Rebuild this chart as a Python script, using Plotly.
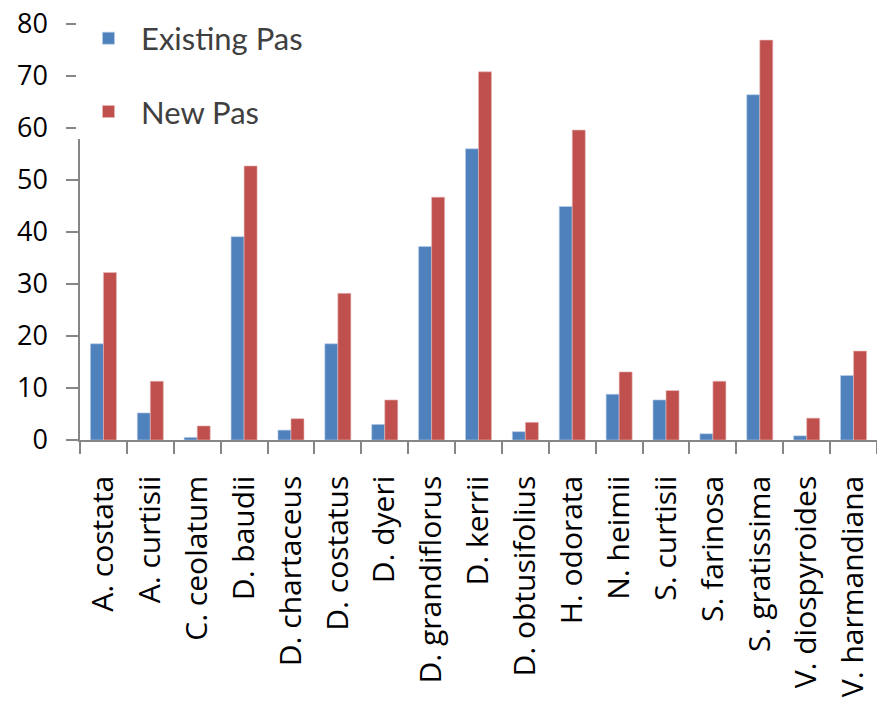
import plotly.graph_objects as go

# Species on the category axis
species = [
    "A. costata", "A. curtisii", "C. ceolatum", "D. baudii", "D. chartaceus",
    "D. costatus", "D. dyeri", "D. grandiflorus", "D. kerrii", "D. obtusifolius",
    "H. odorata", "N. heimii", "S. curtisii", "S. farinosa", "S. gratissima",
    "V. diospyroides", "V. harmandiana",
]

# Values per species for each series
existing_pas = [18.5, 5.2, 0.5, 39.1, 1.9, 18.5, 3.0, 37.2, 56.0, 1.6,
                44.9, 8.8, 7.7, 1.2, 66.4, 0.8, 12.4]
new_pas = [32.2, 11.3, 2.7, 52.7, 4.1, 28.2, 7.7, 46.7, 70.8, 3.4,
           59.6, 13.1, 9.5, 11.3, 76.9, 4.2, 17.1]

y_ticks = [0, 10, 20, 30, 40, 50, 60, 70, 80]

BLUE = "#4F81BD"
RED = "#C0504D"
AXIS = "#868686"

fig = go.Figure()
fig.add_trace(go.Bar(
    x=species, y=existing_pas, name="Existing Pas", legendgroup="a",
    marker=dict(color=BLUE, line=dict(color="#B9CDE5", width=0.6)),
))
fig.add_trace(go.Bar(
    x=species, y=new_pas, name="New Pas", legendgroup="b",
    marker=dict(color=RED, line=dict(color="#E6B9B8", width=0.6)),
))

fig.update_layout(
    width=877, height=726,
    margin=dict(l=80, r=0, t=24, b=286),
    paper_bgcolor="white", plot_bgcolor="white",
    barmode="group", bargap=0.445, bargroupgap=0,
    showlegend=True,
    legend=dict(
        x=-0.005, xanchor="left", y=1.03, yanchor="top",
        bgcolor="white", borderwidth=0,
        traceorder="grouped", tracegroupgap=30, itemwidth=55,
        font=dict(family="Lato, Open Sans, sans-serif", size=31, color="#404040"),
    ),
    xaxis=dict(
        type="category", showgrid=False,
        showline=True, linecolor=AXIS, linewidth=1.5,
        ticks="outside", tickson="boundaries", ticklen=12, tickcolor=AXIS, tickwidth=1.5,
        tickangle=-90, ticklabelstandoff=22,
        tickfont=dict(family="Open Sans, sans-serif", size=30, color="black"),
    ),
    yaxis=dict(
        range=[0, 80], tickvals=y_ticks, showgrid=False, zeroline=False,
        showline=True, linecolor=AXIS, linewidth=1.5,
        ticks="outside", ticklen=12, tickcolor=AXIS, tickwidth=1.5,
        ticklabelstandoff=13,
        tickfont=dict(family="Open Sans, sans-serif", size=27, color="black"),
    ),
)

fig.write_html("out.html")
